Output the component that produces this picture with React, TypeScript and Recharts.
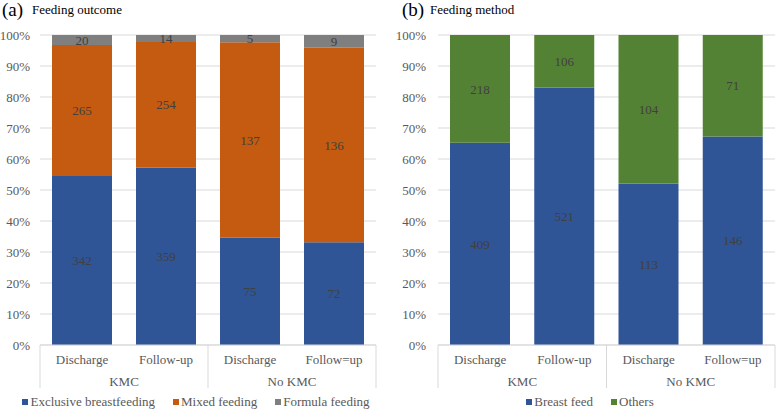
import React from 'react';
import { BarChart, Bar, XAxis, YAxis, CartesianGrid, LabelList, Legend } from 'recharts';

const categories = ['Discharge', 'Follow-up', 'Discharge', 'Follow=up'];
const groups = ['KMC', 'KMC', 'No KMC', 'No KMC'];
const exclusiveBF = [342, 359, 75, 72];
const mixedF = [265, 254, 137, 136];
const formulaF = [20, 14, 5, 9];
const breastFeed = [409, 521, 113, 146];
const othersF = [218, 106, 104, 71];
const yTicks = [0, 0.1, 0.2, 0.3, 0.4, 0.5, 0.6, 0.7, 0.8, 0.9, 1];

const BLUE = '#2F5597';
const ORANGE = '#C55A11';
const GRAY = '#7F7F7F';
const GREEN = '#548235';
const FONT = '"Liberation Serif", "Times New Roman", serif';
const TEXT = '#595959';
const LINE = '#D9D9D9';

const dataA = categories.map((c, i) => ({ sub: c, group: groups[i], ebf: exclusiveBF[i], mixed: mixedF[i], formula: formulaF[i] }));
const dataB = categories.map((c, i) => ({ sub: c, group: groups[i], breast: breastFeed[i], others: othersF[i] }));

const seriesA = [
  { key: 'ebf', name: 'Exclusive breastfeeding', color: BLUE },
  { key: 'mixed', name: 'Mixed feeding', color: ORANGE },
  { key: 'formula', name: 'Formula feeding', color: GRAY },
];
const seriesB = [
  { key: 'breast', name: 'Breast feed', color: BLUE },
  { key: 'others', name: 'Others', color: GREEN },
];

const GroupTick = (props: any) => {
  const { x, y, payload, index, width } = props;
  const half = payload && payload.offset ? payload.offset : width / categories.length / 2;
  const axisH = 43;
  const els: any[] = [];
  els.push(
    <text key="s" x={x} y={y + 19} textAnchor="middle" fill={TEXT} fontSize={13} fontFamily={FONT}>
      {payload.value}
    </text>
  );
  if (index === 0 || groups[index] !== groups[index - 1]) {
    let n = 1;
    while (index + n < groups.length && groups[index + n] === groups[index]) n++;
    const cx = x - half + n * half;
    els.push(<line key="l" x1={x - half} x2={x - half} y1={y} y2={y + axisH} stroke={LINE} strokeWidth={1} />);
    els.push(
      <text key="g" x={cx} y={y + 41} textAnchor="middle" fill={TEXT} fontSize={13} fontFamily={FONT}>
        {groups[index]}
      </text>
    );
  }
  if (index === groups.length - 1) {
    els.push(<line key="r" x1={x + half} x2={x + half} y1={y} y2={y + axisH} stroke={LINE} strokeWidth={1} />);
  }
  return <g>{els}</g>;
};

const makeLegend = (series: any[], shift: number) => () => (
  <div
    style={{
      display: 'flex',
      justifyContent: 'center',
      alignItems: 'center',
      height: 17,
      paddingTop: 5,
      transform: `translateX(${shift}px)`,
      fontFamily: FONT,
      fontSize: 13,
      color: TEXT,
      lineHeight: '17px',
      whiteSpace: 'nowrap',
    }}
  >
    {series.map((s, i) => (
      <span key={s.key} style={{ display: 'inline-flex', alignItems: 'center', marginLeft: i === 0 ? 0 : 18 }}>
        <span style={{ display: 'inline-block', width: 6, height: 6, background: s.color, marginRight: 2 }} />
        {s.name}
      </span>
    ))}
  </div>
);

const pct = (v: number) => `${Math.round(v * 100)}%`;

const Panel = ({ data, series, yWidth, tickMargin, marginRight, legendShift }: any) => (
  <BarChart
    width={388}
    height={410}
    data={data}
    stackOffset="expand"
    margin={{ top: 35, right: marginRight, bottom: 0, left: 0 }}
    barSize={60}
  >
    <CartesianGrid vertical={false} stroke={LINE} />
    <XAxis
      dataKey="sub"
      interval={0}
      tickLine={false}
      tickSize={0}
      tickMargin={0}
      axisLine={{ stroke: LINE }}
      height={43}
      tick={<GroupTick />}
    />
    <YAxis
      type="number"
      domain={[0, 1]}
      ticks={yTicks}
      tickFormatter={pct}
      width={yWidth}
      tickLine={false}
      axisLine={false}
      tickSize={0}
      tickMargin={tickMargin}
      tick={{ fill: TEXT, fontSize: 13, fontFamily: FONT }}
    />
    <Legend verticalAlign="bottom" wrapperStyle={{ left: 0, width: 388, bottom: 0 }} content={makeLegend(series, legendShift)} />
    {series.map((s: any) => (
      <Bar key={s.key} dataKey={s.key} name={s.name} stackId="a" fill={s.color} isAnimationActive={false}>
        <LabelList dataKey={s.key} position="center" fill="#404040" fontSize={13} fontFamily={FONT} />
      </Bar>
    ))}
  </BarChart>
);

export default function App() {
  return (
    <div style={{ position: 'absolute', left: 0, top: 0, width: 776, height: 410, background: '#fff', overflow: 'hidden' }}>
      <svg width={776} height={30} style={{ position: 'absolute', left: 0, top: 0, zIndex: 2 }}>
        <text x={2} y={15.5} fontSize={19} fontFamily={FONT} fill="#000">(a)</text>
        <text x={32} y={14} fontSize={13} fontFamily={FONT} fill="#000">Feeding outcome</text>
        <text x={402} y={15.5} fontSize={19} fontFamily={FONT} fill="#000">(b)</text>
        <text x={430} y={14} fontSize={13} fontFamily={FONT} fill="#000">Feeding method</text>
      </svg>
      <div style={{ position: 'absolute', left: 0, top: 0 }}>
        <Panel data={dataA} series={seriesA} yWidth={40} tickMargin={10} marginRight={12} legendShift={2} />
      </div>
      <div style={{ position: 'absolute', left: 388, top: 0 }}>
        <Panel data={dataB} series={seriesB} yWidth={50} tickMargin={12} marginRight={1} legendShift={8} />
      </div>
    </div>
  );
}
